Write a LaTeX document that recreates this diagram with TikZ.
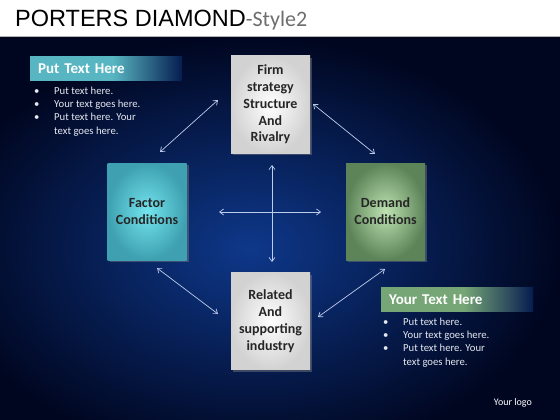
\documentclass[tikz,border=0pt]{standalone}
\usepackage{fontspec}
\setmainfont{Carlito}
\newfontfamily\titlefont{Liberation Sans}
\usetikzlibrary{arrows.meta,shadows}
\definecolor{bgin}{RGB}{14,56,138}
\definecolor{bgout}{RGB}{0,6,32}
\definecolor{bgmid}{RGB}{6,28,80}
\definecolor{tealc}{RGB}{88,182,194}
\definecolor{greenc}{RGB}{118,166,118}
\definecolor{titlegray}{RGB}{110,110,110}
\definecolor{arrowc}{RGB}{190,205,235}
\definecolor{bullc}{RGB}{230,232,240}
\pgfdeclarehorizontalshading{tealfade}{100bp}{color(0bp)=(tealc); color(25bp)=(tealc); color(52bp)=(tealc); color(75bp)=(bgmid); color(100bp)=(bgmid)}
\pgfdeclarehorizontalshading{greenfade}{100bp}{color(0bp)=(greenc); color(25bp)=(greenc); color(52bp)=(greenc); color(75bp)=(bgmid); color(100bp)=(bgmid)}
\tikzset{
  box/.style={minimum width=79pt, minimum height=97pt, inner sep=2pt, align=center,
    font=\bfseries\fontsize{14}{16.8}\selectfont, text=black!85,
    drop shadow={opacity=0.45, shadow xshift=2pt, shadow yshift=-2pt}},
  lbl/.style={minimum width=150pt, minimum height=24pt, text width=136pt, align=left,
    inner xsep=8pt, anchor=north west, text=white, font=\bfseries\fontsize{15}{17}\selectfont},
  bul/.style={anchor=north west, inner sep=0pt, text=bullc, font=\fontsize{10.7}{13.2}\selectfont},
  arr/.style={draw=arrowc, line width=0.7pt, {Straight Barb[length=4pt,width=6pt]}-{Straight Barb[length=4pt,width=6pt]}}
}
\begin{document}
\begin{tikzpicture}[x=1pt,y=-1pt]
\useasboundingbox (0,0) rectangle (560,420);
\shade[inner color=bgin, outer color=bgout] (-60,37) rectangle (560,460);
\fill[white] (0,0) rectangle (560,37);
\draw[gray!60, line width=1pt] (0,37) -- (560,37);
\node[anchor=base west, inner sep=0pt] (title) at (15,27)
  {\titlefont\fontsize{23.5}{27}\selectfont PORTERS DIAMOND{\normalfont\fontsize{22}{26}\selectfont\color{titlegray}-Style2}};

% boxes
\node[box, inner color=white, outer color=gray!35] (firm) at (270.5,104.5)
  {Firm\\strategy\\Structure\\And\\Rivalry};
\node[box, inner color={rgb,255:red,115;green,228;blue,238}, outer color={rgb,255:red,62;green,160;blue,176}] (factor) at (147,211.5)
  {Factor\\Conditions};
\node[box, inner color={rgb,255:red,190;green,226;blue,178}, outer color={rgb,255:red,92;green,132;blue,88}] (demand) at (385.5,211.5)
  {Demand\\Conditions};
\node[box, inner color=white, outer color=gray!35] (related) at (270.5,321)
  {Related\\And\\supporting\\industry};

% arrow ends
\coordinate (a1) at (160,152); \coordinate (a2) at (218,100);
\coordinate (b1) at (313,104); \coordinate (b2) at (375,154);
\coordinate (c1) at (157,268); \coordinate (c2) at (218,314);
\coordinate (d1) at (385,269); \coordinate (d2) at (318,317);
\coordinate (h1) at (219,212); \coordinate (h2) at (321,212);
\coordinate (v1) at (272,165); \coordinate (v2) at (272,262);
\draw[arr] (a1) -- (a2);
\draw[arr] (b1) -- (b2);
\draw[arr] (c1) -- (c2);
\draw[arr] (d1) -- (d2);
\draw[arr] (h1) -- (h2);
\draw[arr] (v1) -- (v2);

% labels
\node[lbl, shading=tealfade, shading angle=0] (lab1) at (30,56) {Put Text Here};
\node[bul] (bl1) at (34,85) {\begin{tabular}{@{}p{20pt}@{}l@{}}
\textbullet & Put text here.\\
\textbullet & Your text goes here.\\
\textbullet & Put text here. Your\\
 & text goes here.
\end{tabular}};
\node[lbl, shading=greenfade, shading angle=0] (lab2) at (381,287) {Your Text Here};
\node[bul] (bl2) at (383,316) {\begin{tabular}{@{}p{20pt}@{}l@{}}
\textbullet & Put text here.\\
\textbullet & Your text goes here.\\
\textbullet & Put text here. Your\\
 & text goes here.
\end{tabular}};
\node[anchor=base east, inner sep=0pt, text=white, font=\fontsize{10}{12}\selectfont] (logo) at (532,405) {Your logo};
\end{tikzpicture}
\end{document}
